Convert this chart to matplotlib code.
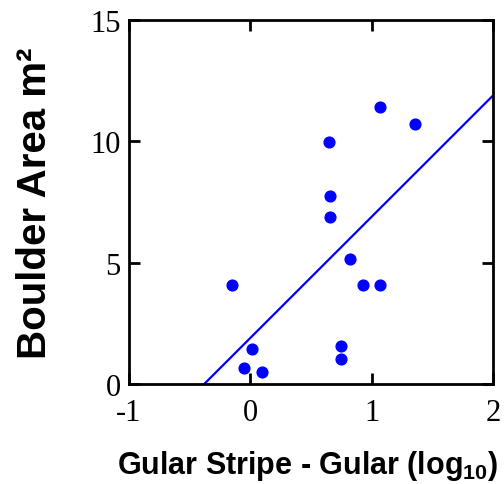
import numpy as np
import matplotlib.pyplot as plt

# points
gular_diff = [-0.15, 0.01, -0.05, 0.10, 0.75, 0.75, 0.82, 0.93, 1.07,
              1.07, 1.36, 0.65, 0.66, 0.66]
boulder_area = [4.1, 1.45, 0.65, 0.5, 1.55, 1.05, 5.15, 4.1, 4.1,
                11.4, 10.7, 9.95, 7.75, 6.9]

# fitted line
slope = 4.99
intercept = 1.9
fit_x = [-0.38, 2.0]

x_ticks = [-1, 0, 1, 2]
y_ticks = [0, 5, 10, 15]

plt.rcParams['mathtext.fontset'] = 'custom'
plt.rcParams['mathtext.bf'] = 'Liberation Sans:bold'
plt.rcParams['mathtext.rm'] = 'Liberation Sans:bold'

fig = plt.figure(figsize=(5.04, 4.85), dpi=100)
ax = fig.add_axes([0.256, 0.206, 0.722, 0.751])

ax.scatter(gular_diff, boulder_area, s=60, color='#0000ff', zorder=3)
fx = np.array(fit_x)
ax.plot(fx, intercept + slope * fx, color='#0000ff', lw=1.6)

ax.set_xlim(-1, 2)
ax.set_ylim(0, 15)
ax.set_xticks(x_ticks)
ax.set_yticks(y_ticks)
ax.set_xticklabels([str(t) for t in x_ticks], family='Liberation Serif', fontsize=22)
ax.set_yticklabels([str(t) for t in y_ticks], family='Liberation Serif', fontsize=22)
ax.tick_params(direction='in', length=8, width=2, top=True, right=True)
ax.tick_params(axis='x', pad=10)
ax.tick_params(axis='y', pad=6)
for sp in ax.spines.values():
    sp.set_linewidth(2)

ax.set_xlabel(r'Gular Stripe - Gular (log$_{\mathbf{10}}$)', family='Liberation Sans',
              fontweight='bold', fontsize=22)
ax.xaxis.set_label_coords(0.49, -0.175)
ax.set_ylabel('Boulder Area m\u00b2', family='Liberation Sans',
              fontweight='bold', fontsize=29)
ax.yaxis.set_label_coords(-0.205, 0.5)

fig.savefig('out.png', dpi=100)
